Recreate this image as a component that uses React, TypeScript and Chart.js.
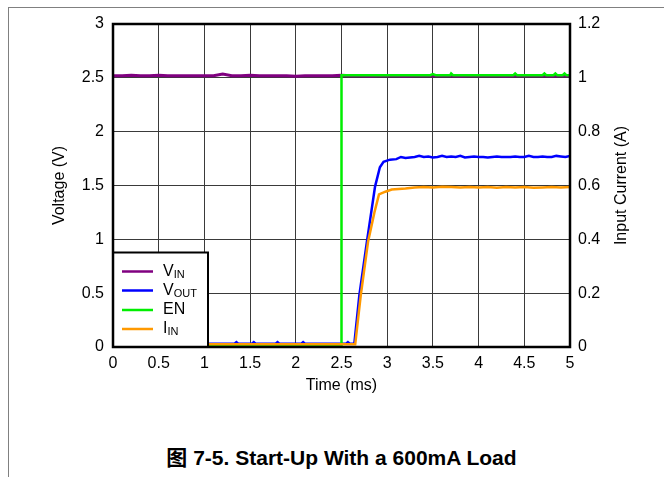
import React, { useEffect, useRef } from "react";
import { Chart, registerables } from "chart.js";

Chart.register(...registerables);

// Time axis ticks (ms)
const xTicks = [0, 0.5, 1, 1.5, 2, 2.5, 3, 3.5, 4, 4.5, 5];

// V_IN (V) : [time ms, volts]
const vinData: [number, number][] = [
  [0, 2.52], [0.1, 2.52], [0.2, 2.525], [0.3, 2.52], [0.4, 2.52], [0.5, 2.525], [0.6, 2.52], [0.7, 2.52], [0.8, 2.52], [0.9, 2.52],
  [1.0, 2.52], [1.1, 2.52], [1.2, 2.535], [1.3, 2.52], [1.4, 2.52], [1.5, 2.525], [1.6, 2.52], [1.7, 2.52], [1.8, 2.52], [1.9, 2.52],
  [2.0, 2.515], [2.1, 2.52], [2.2, 2.52], [2.3, 2.52], [2.4, 2.52], [2.5, 2.525], [2.6, 2.52], [2.7, 2.52], [2.8, 2.515], [2.9, 2.52],
  [3.0, 2.52], [3.1, 2.52], [3.2, 2.515], [3.3, 2.52], [3.4, 2.52], [3.5, 2.52], [3.6, 2.52], [3.7, 2.52], [3.8, 2.515], [3.9, 2.52],
  [4.0, 2.52], [4.1, 2.52], [4.2, 2.52], [4.3, 2.515], [4.4, 2.52], [4.5, 2.52], [4.6, 2.52], [4.7, 2.52], [4.8, 2.515], [4.9, 2.52], [5.0, 2.52],
];

// V_OUT (V)
const voutData: [number, number][] = [
  [0, 0.03], [0.3, 0.03], [0.6, 0.03], [0.9, 0.03], [1.2, 0.03], [1.33, 0.03], [1.35, 0.045], [1.37, 0.03],
  [1.52, 0.03], [1.54, 0.045], [1.56, 0.03], [1.78, 0.03], [1.8, 0.045], [1.82, 0.03], [2.06, 0.03], [2.08, 0.045],
  [2.1, 0.03], [2.3, 0.03], [2.55, 0.03], [2.57, 0.045], [2.59, 0.03], [2.64, 0.03], [2.695, 0.48], [2.78, 0.99],
  [2.867, 1.49], [2.92, 1.67], [2.96, 1.72], [3.03, 1.74], [3.1, 1.745], [3.15, 1.765], [3.2, 1.755], [3.25, 1.76],
  [3.3, 1.765], [3.35, 1.775], [3.4, 1.765], [3.45, 1.77], [3.5, 1.76], [3.55, 1.765], [3.6, 1.775], [3.65, 1.765],
  [3.7, 1.77], [3.75, 1.765], [3.8, 1.775], [3.85, 1.76], [3.9, 1.765], [3.95, 1.77], [4.0, 1.765], [4.05, 1.765],
  [4.1, 1.76], [4.15, 1.765], [4.2, 1.77], [4.25, 1.765], [4.3, 1.765], [4.35, 1.765], [4.4, 1.77], [4.45, 1.765],
  [4.5, 1.765], [4.55, 1.775], [4.6, 1.765], [4.65, 1.765], [4.7, 1.77], [4.75, 1.765], [4.8, 1.765], [4.85, 1.775],
  [4.9, 1.77], [4.95, 1.765], [5.0, 1.775],
];

// EN (V)
const enData: [number, number][] = [
  [0, 0.02], [0.5, 0.02], [1, 0.02], [1.5, 0.02], [2, 0.02], [2.5, 0.02], [2.5, 2.525], [2.8, 2.525], [3.0, 2.525],
  [3.2, 2.525], [3.47, 2.525], [3.5, 2.535], [3.53, 2.525], [3.69, 2.525], [3.7, 2.54], [3.72, 2.525], [4.0, 2.525],
  [4.38, 2.525], [4.4, 2.54], [4.42, 2.525], [4.7, 2.525], [4.72, 2.54], [4.74, 2.525], [4.82, 2.525], [4.84, 2.54],
  [4.86, 2.525], [4.92, 2.525], [4.94, 2.54], [4.96, 2.525], [5, 2.525],
];

// I_IN (A), right axis
const iinData: [number, number][] = [
  [0, 0.01], [0.5, 0.01], [1, 0.01], [1.5, 0.01], [2, 0.01], [2.5, 0.01], [2.65, 0.01], [2.71, 0.19], [2.79, 0.39],
  [2.86, 0.5], [2.91, 0.567], [2.98, 0.577], [3.05, 0.585], [3.2, 0.589], [3.3, 0.593], [3.4, 0.594], [3.5, 0.593],
  [3.6, 0.595], [3.7, 0.594], [3.8, 0.593], [3.9, 0.594], [4.0, 0.593], [4.1, 0.594], [4.2, 0.592], [4.3, 0.594],
  [4.4, 0.593], [4.5, 0.594], [4.6, 0.592], [4.7, 0.593], [4.8, 0.594], [4.9, 0.593], [5, 0.594],
];

const legendItems = [
  { main: "V", sub: "IN", color: "#800080" },
  { main: "V", sub: "OUT", color: "#0000ff" },
  { main: "EN", sub: "", color: "#00ee00" },
  { main: "I", sub: "IN", color: "#ff9900" },
];

const FONT = '"Liberation Sans", Arial, Helvetica, sans-serif';

const toXY = (arr: [number, number][]) => arr.map(([x, y]) => ({ x, y }));
const fmt = (v: any) => String(parseFloat(Number(v).toFixed(1)));

const overlayPlugin = {
  id: "overlay",
  afterDraw(chart: any) {
    const { ctx, chartArea } = chart;
    const { left, right, top, bottom } = chartArea;
    ctx.save();
    // axis titles
    ctx.fillStyle = "#000";
    ctx.font = `16px ${FONT}`;
    ctx.textAlign = "center";
    ctx.textBaseline = "middle";
    ctx.fillText("Time (ms)", (left + right) / 2, 386);
    ctx.save();
    ctx.translate(60, (top + bottom) / 2);
    ctx.rotate(-Math.PI / 2);
    ctx.fillText("Voltage (V)", 0, 0);
    ctx.restore();
    ctx.save();
    ctx.translate(622, (top + bottom) / 2);
    ctx.rotate(-Math.PI / 2);
    ctx.fillText("Input Current (A)", 0, 0);
    ctx.restore();

    // legend box
    const lx = left, ly = 252.5, lw = 95, lh = bottom - 252.5;
    ctx.fillStyle = "#fff";
    ctx.fillRect(lx, ly, lw, lh);
    ctx.strokeStyle = "#000";
    ctx.lineWidth = 2;
    ctx.strokeRect(lx, ly, lw, lh);
    const rowY = [271.5, 290.5, 310, 329];
    legendItems.forEach((it, i) => {
      const y = rowY[i];
      ctx.strokeStyle = it.color;
      ctx.lineWidth = 2.5;
      ctx.beginPath();
      ctx.moveTo(122, y);
      ctx.lineTo(153, y);
      ctx.stroke();
      ctx.fillStyle = "#000";
      ctx.textAlign = "left";
      ctx.textBaseline = "middle";
      ctx.font = `16px ${FONT}`;
      ctx.fillText(it.main, 163, y);
      if (it.sub) {
        const w = ctx.measureText(it.main).width;
        ctx.font = `11px ${FONT}`;
        ctx.fillText(it.sub, 163 + w, y + 3);
      }
    });

    // plot frame
    ctx.strokeStyle = "#000";
    ctx.lineWidth = 2.5;
    ctx.strokeRect(left, top, right - left, bottom - top);
    ctx.restore();
  },
};

export default function App() {
  const ref = useRef<HTMLCanvasElement>(null);
  useEffect(() => {
    if (!ref.current) return;
    const chart = new Chart(ref.current, {
      type: "line",
      data: {
        datasets: [
          { label: "VIN", data: toXY(vinData), borderColor: "#800080", borderWidth: 3, pointRadius: 0, yAxisID: "y", order: 3 },
          { label: "VOUT", data: toXY(voutData), borderColor: "#0000ff", borderWidth: 2.5, pointRadius: 0, yAxisID: "y", order: 2 },
          { label: "EN", data: toXY(enData), borderColor: "#00ee00", borderWidth: 2.5, pointRadius: 0, yAxisID: "y", order: 1 },
          { label: "IIN", data: toXY(iinData), borderColor: "#ff9900", borderWidth: 2.5, pointRadius: 0, yAxisID: "y2", order: 0 },
        ],
      },
      options: {
        responsive: false,
        animation: false,
        parsing: false as any,
        layout: { padding: { left: 50, right: 34, top: 24, bottom: 25 } },
        plugins: { legend: { display: false }, tooltip: { enabled: false }, title: { display: false } },
        scales: {
          x: {
            type: "linear",
            min: 0,
            max: 5,
            afterBuildTicks: (s: any) => { s.ticks = xTicks.map((v) => ({ value: v })); },
            afterFit: (s: any) => { s.height = 48; },
            ticks: { font: { size: 16, family: FONT }, color: "#000", padding: 7, maxRotation: 0, autoSkip: false, callback: fmt },
            grid: { color: "#3a3a3a", lineWidth: 1, drawTicks: false },
            border: { display: false },
          },
          y: {
            position: "left",
            min: 0,
            max: 3,
            ticks: { stepSize: 0.5, font: { size: 16, family: FONT }, color: "#000", padding: 9, callback: fmt },
            afterFit: (s: any) => { s.width = 63; },
            grid: { color: "#3a3a3a", lineWidth: 1, drawTicks: false },
            border: { display: false },
          },
          y2: {
            position: "right",
            min: 0,
            max: 1.2,
            ticks: {
              stepSize: 0.2,
              font: { size: 16, family: FONT },
              color: "#000",
              padding: 8,
              callback: fmt,
            },
            afterFit: (s: any) => { s.width = 60; },
            grid: { display: false, drawTicks: false },
            border: { display: false },
          },
        },
      },
      plugins: [overlayPlugin],
    });
    return () => chart.destroy();
  }, []);

  return (
    <div style={{ position: "fixed", left: 0, top: 0, width: 664, height: 477, overflow: "hidden", background: "#fff" }}>
      <div style={{ position: "absolute", left: 8, top: 7, width: 720, height: 520, border: "1px solid #808080" }} />
      <canvas ref={ref} width={664} height={420} style={{ position: "absolute", left: 0, top: 0, width: 664, height: 420 }} />
      <div
        style={{
          position: "absolute",
          left: 0,
          top: 446,
          width: 683,
          textAlign: "center",
          fontFamily: '"Liberation Sans", Arial, "Noto Sans CJK SC", sans-serif',
          fontWeight: "bold",
          fontSize: 21,
          lineHeight: "24px",
          color: "#000",
        }}
      >
        图 7-5. Start-Up With a 600mA Load
      </div>
    </div>
  );
}
